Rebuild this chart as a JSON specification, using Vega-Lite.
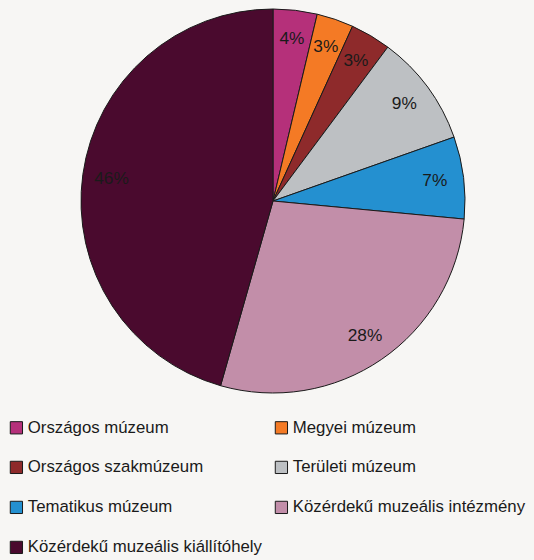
{
  "$schema": "https://vega.github.io/schema/vega-lite/v6.json",
  "width": 546,
  "height": 402,
  "padding": {"left": 0, "top": 0, "right": 0, "bottom": 158},
  "autosize": "none",
  "background": "#f7f6f4",
  "config": {"view": {"stroke": null}, "font": "Liberation Sans"},
  "data": {"values": [
    {"idx": 1, "cat": "Országos múzeum", "value": 3.7, "label": "4%"},
    {"idx": 2, "cat": "Megyei múzeum", "value": 3.1, "label": "3%"},
    {"idx": 3, "cat": "Országos szakmúzeum", "value": 3.4, "label": "3%"},
    {"idx": 4, "cat": "Területi múzeum", "value": 9.4, "label": "9%"},
    {"idx": 5, "cat": "Tematikus múzeum", "value": 6.9, "label": "7%"},
    {"idx": 6, "cat": "Közérdekű muzeális intézmény", "value": 27.9, "label": "28%"},
    {"idx": 7, "cat": "Közérdekű muzeális kiállítóhely", "value": 45.6, "label": "46%"}
  ]},
  "encoding": {
    "theta": {"field": "value", "type": "quantitative", "stack": true},
    "order": {"field": "idx", "type": "quantitative"}
  },
  "layer": [
    {
      "mark": {"type": "arc", "outerRadius": 192, "stroke": "#1a1a1a", "strokeWidth": 1},
      "encoding": {
        "color": {
          "field": "cat", "type": "nominal", "sort": null,
          "scale": {
            "domain": ["Országos múzeum", "Megyei múzeum", "Országos szakmúzeum", "Területi múzeum", "Tematikus múzeum", "Közérdekű muzeális intézmény", "Közérdekű muzeális kiállítóhely"],
            "range": ["#b5307a", "#f47a25", "#8e2a2b", "#bdc0c3", "#2490d0", "#c28ea9", "#4a0a2e"]
          },
          "legend": {
            "title": null,
            "orient": "none",
            "legendX": 8,
            "legendY": 419,
            "columns": 2,
            "direction": "horizontal",
            "symbolType": "square",
            "symbolSize": 150,
            "symbolStrokeColor": "#1a1a1a",
            "symbolStrokeWidth": 1,
            "symbolOpacity": 1,
            "labelFont": "Liberation Sans",
            "labelFontSize": 16.8,
            "labelColor": "#1a1a1a",
            "labelOffset": 3,
            "labelLimit": 400,
            "rowPadding": 22,
            "columnPadding": 11
          }
        }
      }
    },
    {
      "mark": {"type": "text", "radius": 163, "fontSize": 17.3, "font": "Liberation Sans", "color": "#1a1a1a"},
      "encoding": {"text": {"field": "label"}}
    }
  ]
}
